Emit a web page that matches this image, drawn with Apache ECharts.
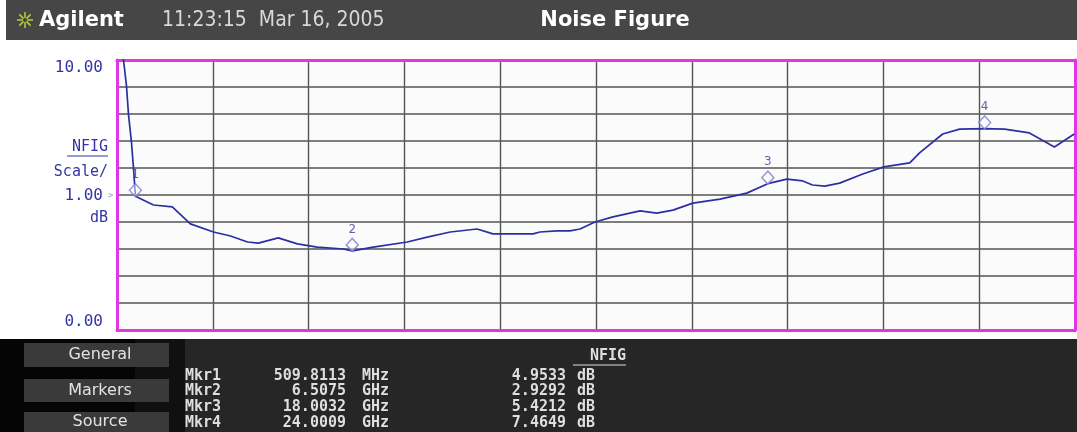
<!DOCTYPE html>
<html>
<head>
<meta charset="utf-8">
<title>Noise Figure</title>
<script src="https://cdn.jsdelivr.net/npm/echarts@6/dist/echarts.min.js"></script>
<style>
  html, body { margin: 0; padding: 0; background: #ffffff; }
  #chart { width: 1077px; height: 432px; }
</style>
</head>
<body>
<div id="chart"></div>
<script>
// Swept noise-figure trace, 10 MHz .. 26.5 GHz (frequency in GHz, NF in dB)
const traceFreqGHz = [
  0.01, 0.18, 0.26, 0.32, 0.40, 0.46, 0.51, 1.01, 1.53, 2.03,
  2.67, 3.14, 3.61, 3.91, 4.46, 4.99, 5.54, 6.26, 6.51, 7.09,
  8.03, 8.58, 9.22, 9.96, 10.40, 10.96, 11.51, 11.70, 12.17, 12.53,
  12.81, 13.22, 13.72, 14.47, 14.93, 15.38, 15.93, 16.68, 17.42, 18.00,
  18.53, 18.97, 19.24, 19.58, 19.99, 20.63, 21.21, 21.93, 22.20, 22.84,
  23.31, 24.00, 24.55, 25.24, 25.93, 26.48
];
const traceNFdB = [
  11.80, 10.00, 9.07, 7.96, 6.96, 5.93, 4.95, 4.63, 4.56, 3.93,
  3.63, 3.48, 3.26, 3.22, 3.41, 3.19, 3.07, 3.00, 2.93, 3.07,
  3.26, 3.44, 3.63, 3.74, 3.56, 3.56, 3.56, 3.63, 3.67, 3.67,
  3.74, 4.00, 4.19, 4.41, 4.33, 4.44, 4.70, 4.85, 5.07, 5.42,
  5.59, 5.52, 5.37, 5.33, 5.44, 5.78, 6.04, 6.19, 6.56, 7.26,
  7.44, 7.46, 7.44, 7.30, 6.78, 7.26
];

// Marker readouts
const markerNames = ['Mkr1', 'Mkr2', 'Mkr3', 'Mkr4'];
const markerFreqGHz = [0.5098113, 6.5075, 18.0032, 24.0009];
const markerNFdB = [4.9533, 2.9292, 5.4212, 7.4649];

// Display scale
const yTicks = [0, 10];
const scalePerDiv = 1.0;
const spanStartGHz = 0;
const spanStopGHz = 26.5;

// Softkeys
const softkeys = ['General', 'Markers', 'Source'];

const chart = echarts.init(document.getElementById('chart'), null, { renderer: 'canvas' });

const blue = '#3434a6';
const magenta = '#e236e2';
const gridGray = '#555555';
const mono = '"DejaVu Sans Mono", "Liberation Mono", monospace';
const panelText = '#dedede';

const traceData = traceFreqGHz.map((f, i) => [f, traceNFdB[i]]);
const markerData = markerFreqGHz.map((f, i) => [f, markerNFdB[i]]);

function freqText(ghz) {
  return ghz < 1 ? (ghz * 1000).toFixed(4) : ghz.toFixed(4);
}
function freqUnit(ghz) {
  return ghz < 1 ? 'MHz' : 'GHz';
}

const graphics = [];

// header bar
graphics.push({ type: 'rect', z: 10, shape: { x: 6, y: 0, width: 1071, height: 40 }, style: { fill: '#464646' } });
// Agilent spark logo
for (let k = 0; k < 8; k++) {
  const a = k * Math.PI / 4;
  graphics.push({
    type: 'line', z: 11,
    shape: { x1: 25 + Math.cos(a) * 2, y1: 20 + Math.sin(a) * 2, x2: 25 + Math.cos(a) * 8, y2: 20 + Math.sin(a) * 8 },
    style: { stroke: '#b4c83a', lineWidth: 1.6 }
  });
}
graphics.push(
  { type: 'text', z: 11, x: 39, y: 21, style: { text: 'Agilent', fill: '#ffffff', font: 'bold 21px "DejaVu Sans", sans-serif', verticalAlign: 'middle' } },
  { type: 'text', z: 11, x: 162, y: 21, style: { text: '11:23:15  Mar 16, 2005', fill: '#d8d8d8', font: 'normal 21px "DejaVu Sans Condensed", "DejaVu Sans", sans-serif', verticalAlign: 'middle' } },
  { type: 'text', z: 11, x: 615, y: 21, style: { text: 'Noise Figure', fill: '#ffffff', font: 'bold 21px "DejaVu Sans", sans-serif', align: 'center', verticalAlign: 'middle' } }
);

// reference level / scale annotation
graphics.push(
  { type: 'text', x: 108, y: 147, style: { text: 'NFIG', fill: blue, font: 'normal 15px ' + mono, align: 'right', verticalAlign: 'middle' } },
  { type: 'line', shape: { x1: 67, y1: 156, x2: 108, y2: 156 }, style: { stroke: blue, lineWidth: 1.2 } },
  { type: 'text', x: 108, y: 172, style: { text: 'Scale/', fill: blue, font: 'normal 15px ' + mono, align: 'right', verticalAlign: 'middle' } },
  { type: 'text', x: 103, y: 196, style: { text: scalePerDiv.toFixed(2), fill: blue, font: 'normal 16px ' + mono, align: 'right', verticalAlign: 'middle' } },
  { type: 'text', x: 108, y: 196, style: { text: '>', fill: '#9a9ab8', font: 'normal 9px ' + mono, verticalAlign: 'middle' } },
  { type: 'text', x: 108, y: 218, style: { text: 'dB', fill: blue, font: 'normal 15px ' + mono, align: 'right', verticalAlign: 'middle' } }
);

// softkey / readout panel
graphics.push(
  { type: 'rect', z: 10, shape: { x: 0, y: 339, width: 1077, height: 93 }, style: { fill: '#262626' } },
  { type: 'rect', z: 10, shape: { x: 0, y: 339, width: 135, height: 93 }, style: { fill: '#050505' } },
  { type: 'rect', z: 10, shape: { x: 135, y: 339, width: 50, height: 93 }, style: { fill: '#101010' } }
);

const buttonFont = 'normal 16px "DejaVu Sans", sans-serif';
const buttonBoxes = [{ y: 343, h: 24 }, { y: 379, h: 23 }, { y: 412, h: 20 }];
softkeys.forEach((label, i) => {
  const b = buttonBoxes[i];
  graphics.push(
    { type: 'rect', z: 11, shape: { x: 24, y: b.y, width: 145, height: b.h }, style: { fill: '#3a3a3a' } },
    { type: 'text', z: 12, x: 100, y: b.y + b.h / 2, style: { text: label, fill: '#e2e2e2', font: buttonFont, align: 'center', verticalAlign: 'middle' } }
  );
});

// marker readout table
const tableRowsY = [376, 391, 407, 423];
const tableFont = 'bold 15px ' + mono;
graphics.push(
  { type: 'text', z: 12, x: 626, y: 356, style: { text: 'NFIG', fill: panelText, font: tableFont, align: 'right', verticalAlign: 'middle' } },
  { type: 'line', z: 12, shape: { x1: 573, y1: 365, x2: 626, y2: 365 }, style: { stroke: panelText, lineWidth: 1.2 } }
);
markerNames.forEach((name, i) => {
  const y = tableRowsY[i];
  const st = (text, align) => ({ text, fill: panelText, font: tableFont, align, verticalAlign: 'middle' });
  graphics.push(
    { type: 'text', z: 12, x: 185, y, style: st(name, 'left') },
    { type: 'text', z: 12, x: 346, y, style: st(freqText(markerFreqGHz[i]), 'right') },
    { type: 'text', z: 12, x: 362, y, style: st(freqUnit(markerFreqGHz[i]), 'left') },
    { type: 'text', z: 12, x: 566, y, style: st(markerNFdB[i].toFixed(4), 'right') },
    { type: 'text', z: 12, x: 577, y, style: st('dB', 'left') }
  );
});

const option = {
  backgroundColor: '#ffffff',
  animation: false,
  grid: { left: 117, right: 2, top: 60, bottom: 102, show: true, backgroundColor: '#fbfbfb', borderWidth: 0 },
  xAxis: [
    {
      type: 'value', min: spanStartGHz, max: spanStopGHz, interval: (spanStopGHz - spanStartGHz) / 10,
      axisLine: { show: true, onZero: false, lineStyle: { color: magenta, width: 3 } },
      axisTick: { show: false }, axisLabel: { show: false },
      splitLine: { show: true, showMinLine: false, showMaxLine: false, lineStyle: { color: gridGray, width: 1.4 } }
    },
    {
      type: 'value', position: 'top', min: spanStartGHz, max: spanStopGHz,
      axisLine: { show: true, onZero: false, lineStyle: { color: magenta, width: 3 } },
      axisTick: { show: false }, axisLabel: { show: false }, splitLine: { show: false }
    }
  ],
  yAxis: [
    {
      type: 'value', min: 0, max: 10, interval: scalePerDiv,
      axisLine: { show: true, onZero: false, lineStyle: { color: magenta, width: 3 } },
      axisTick: { show: false },
      axisLabel: {
        show: true, margin: 14, color: blue, fontFamily: mono, fontSize: 16,
        verticalAlignMinLabel: 'bottom', verticalAlignMaxLabel: 'top',
        formatter: v => (yTicks.indexOf(v) >= 0 ? v.toFixed(2) : '')
      },
      splitLine: { show: true, showMinLine: false, showMaxLine: false, lineStyle: { color: gridGray, width: 1.6 } }
    },
    {
      type: 'value', position: 'right', min: 0, max: 10,
      axisLine: { show: true, onZero: false, lineStyle: { color: magenta, width: 3 } },
      axisTick: { show: false }, axisLabel: { show: false }, splitLine: { show: false }
    }
  ],
  series: [
    {
      name: 'NFIG',
      type: 'line',
      data: traceData,
      clip: true,
      showSymbol: false,
      smooth: false,
      lineStyle: { color: '#2e2ea2', width: 1.7 },
      z: 3
    },
    {
      name: 'Markers',
      type: 'scatter',
      data: markerData,
      symbol: 'diamond',
      symbolSize: [12, 13],
      symbolOffset: [0, -6],
      itemStyle: { color: 'rgba(255,255,255,0.6)', borderColor: '#7e7ed2', borderWidth: 1.5 },
      label: {
        show: true, position: 'top', distance: 2,
        formatter: p => String(p.dataIndex + 1),
        color: '#3a3a9e', fontFamily: '"DejaVu Sans", sans-serif', fontSize: 12
      },
      z: 4
    }
  ],
  graphic: graphics
};

chart.setOption(option);
</script>
</body>
</html>
